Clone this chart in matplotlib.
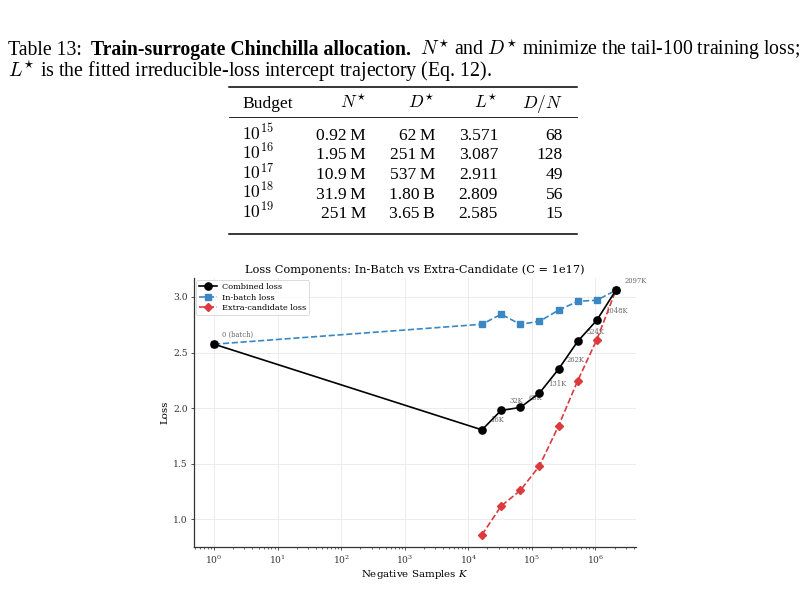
import numpy as np
import matplotlib
matplotlib.use("Agg")
import matplotlib.pyplot as plt
from matplotlib.lines import Line2D

# ---- table data ----
budget_exp = [15, 16, 17, 18, 19]
n_star = ["0.92\u2009M", "1.95\u2009M", "10.9\u2009M", "31.9\u2009M", "251\u2009M"]
d_star = ["62\u2009M", "251\u2009M", "537\u2009M", "1.80\u2009B", "3.65\u2009B"]
l_star = [3.571, 3.087, 2.911, 2.809, 2.585]
d_over_n = [68, 128, 49, 56, 15]

# ---- chart data ----
k_vals = [1, 16384, 32768, 65536, 131072, 262144, 524288, 1048576, 2097152]
k_labels = ["0 (batch)", "16K", "32K", "65K", "131K", "262K", "524K", "1048K", "2097K"]
combined = [2.575, 1.805, 1.98, 2.006, 2.135, 2.35, 2.60, 2.79, 3.06]
in_batch = [2.575, 2.754, 2.844, 2.754, 2.78, 2.88, 2.96, 2.97, 3.06]
extra_k = k_vals[1:]
extra = [0.862, 1.12, 1.26, 1.48, 1.84, 2.245, 2.615, 3.06]

W, H = 806, 595
plt.rcParams["font.family"] = ["DejaVu Serif"]
plt.rcParams["mathtext.fontset"] = "dejavuserif"

fig = plt.figure(figsize=(W / 100, H / 100), dpi=100)
fig.patch.set_facecolor("white")

def fx(x):
    return x / W

def fy(y):
    return 1 - y / H

page_font = ["Liberation Serif", "DejaVu Serif"]
PS = 12.6      # table
CS = 14.4      # caption
renderer = fig.canvas.get_renderer()

def put(x, y, s, size=PS, **kw):
    t = fig.text(fx(x), fy(y), s, family=page_font, fontsize=size,
                 math_fontfamily="cm", va="baseline", **kw)
    return t

def width_px(t):
    return t.get_window_extent(renderer=renderer).width

# caption line 1 (three runs: label, bold title, rest)
parts = [("Table 13:", "normal"),
         ("Train-surrogate Chinchilla allocation.", "bold"),
         (r"$N^{\star}$ and $D^{\star}$ minimize the tail-100 training loss;", "normal")]
texts = [put(0, 55, s, size=14.2, weight=wt) for s, wt in parts]
widths = [width_px(t) for t in texts]
gap = max((800 - 8 - sum(widths)) / (len(texts) - 1), 4)
x = 8
for t, w in zip(texts, widths):
    t.set_x(fx(x))
    x += w + gap
# caption line 2
put(8, 77.5, r"$L^{\star}$ is the fitted irreducible-loss intercept trajectory (Eq. 12).",
    size=CS)

# table rules
for y, lw in [(86.5, 1.1), (117, 0.6), (234, 1.1)]:
    fig.add_artist(Line2D([fx(229), fx(577)], [fy(y), fy(y)], color="black", lw=lw))

# header
put(242, 108, "Budget")
put(366, 108, r"$N^{\star}$", ha="right")
put(435, 108, r"$D^{\star}$", ha="right")
put(498, 108, r"$L^{\star}$", ha="right")
put(563, 108, r"$D/N$", ha="right")

row_y = [139.5, 159.2, 178.9, 198.6, 218.3]
for i, y in enumerate(row_y):
    put(242, y, r"$10^{%d}$" % budget_exp[i])
    put(366, y, n_star[i], ha="right")
    put(435, y, d_star[i], ha="right")
    put(498, y, "%.3f" % l_star[i], ha="right")
    put(563, y, str(d_over_n[i]), ha="right")

# page number (cut off at bottom like the page)
put(403, 606, "17", ha="center")

# ---- chart ----
ax = fig.add_axes([fx(194), fy(547), fx(636) - fx(194), (547 - 278) / H])
ax.set_xscale("log")

blue = "#3a87c4"
red = "#dc3a3c"
ax.plot(k_vals, combined, "-o", color="black", lw=1.2, ms=5.2, zorder=4,
        label="Combined loss")
ax.plot(k_vals, in_batch, "--s", color=blue, lw=1.2, ms=4.3, zorder=3,
        label="In-batch loss")
ax.plot(extra_k, extra, "--D", color=red, lw=1.2, ms=4.2, zorder=3,
        label="Extra-candidate loss")

for k, v, lab in zip(k_vals, combined, k_labels):
    ax.annotate(lab, (k, v), xytext=(6, 4), textcoords="offset points",
                fontsize=4.9, color="#666666", ha="left", va="bottom", zorder=1)

ax.set_title("Loss Components: In-Batch vs Extra-Candidate (C = 1e17)",
             fontsize=8.2, pad=3.5)
ax.set_xlabel("Negative Samples $K$", fontsize=7.4, labelpad=2)
ax.set_ylabel("Loss", fontsize=7.4, labelpad=3)
ax.set_yticks([1.0, 1.5, 2.0, 2.5, 3.0])

ax.grid(True, which="major", color="#ececec", lw=0.7)
ax.set_axisbelow(True)
for s in ["top", "right"]:
    ax.spines[s].set_visible(False)
for s in ["left", "bottom"]:
    ax.spines[s].set_color("#333333")
    ax.spines[s].set_linewidth(0.9)
ax.tick_params(axis="both", which="major", labelsize=6.6, length=2.5,
               width=0.6, color="#333333", labelcolor="#333333", pad=2)
ax.tick_params(axis="x", which="minor", length=1.5, width=0.5, color="#333333")

leg = ax.legend(loc="upper left", fontsize=5.9, frameon=True, borderpad=0.35,
                labelspacing=0.3, handlelength=2.2, handletextpad=0.6,
                borderaxespad=0.3)
leg.get_frame().set_edgecolor("#cccccc")
leg.get_frame().set_linewidth(0.6)

fig.savefig("out.png", dpi=100)
